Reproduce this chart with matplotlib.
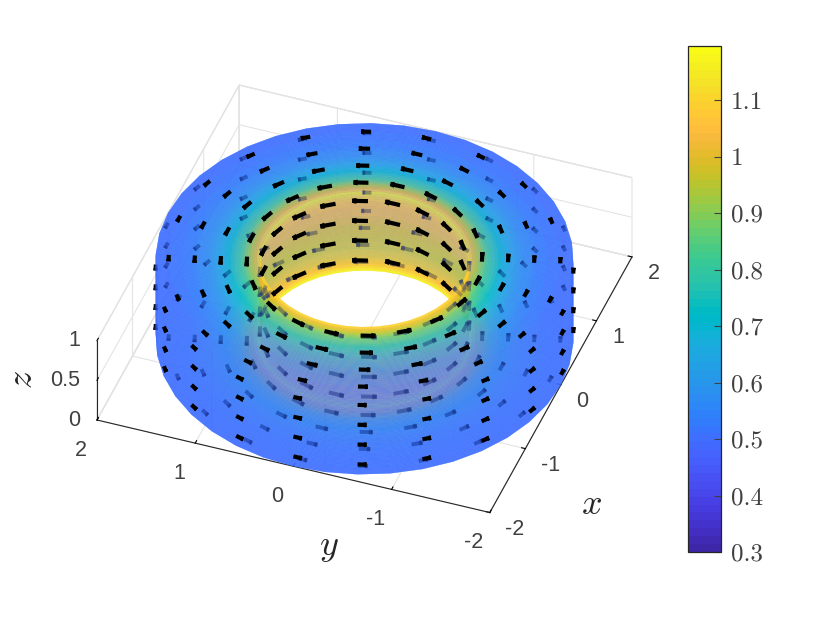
import numpy as np
import matplotlib
matplotlib.use('Agg')
import matplotlib.pyplot as plt
from matplotlib.cm import ScalarMappable
from matplotlib.colors import ListedColormap, Normalize
from mpl_toolkits.mplot3d import proj3d

# parula
parula = ListedColormap([
    (0.2422,0.1504,0.6603),(0.2504,0.1650,0.7076),(0.2578,0.1818,0.7511),(0.2647,0.1978,0.7952),
    (0.2706,0.2147,0.8364),(0.2751,0.2342,0.8710),(0.2783,0.2559,0.8991),(0.2803,0.2782,0.9221),
    (0.2813,0.3006,0.9414),(0.2810,0.3228,0.9579),(0.2795,0.3447,0.9717),(0.2760,0.3667,0.9829),
    (0.2699,0.3892,0.9906),(0.2602,0.4123,0.9952),(0.2440,0.4358,0.9988),(0.2206,0.4603,0.9973),
    (0.1963,0.4847,0.9892),(0.1834,0.5074,0.9798),(0.1786,0.5289,0.9682),(0.1764,0.5499,0.9520),
    (0.1687,0.5703,0.9359),(0.1540,0.5902,0.9218),(0.1460,0.6091,0.9079),(0.1380,0.6276,0.8973),
    (0.1248,0.6459,0.8883),(0.1113,0.6635,0.8763),(0.0952,0.6798,0.8598),(0.0689,0.6948,0.8394),
    (0.0297,0.7082,0.8163),(0.0036,0.7203,0.7917),(0.0067,0.7312,0.7660),(0.0433,0.7411,0.7394),
    (0.0964,0.7500,0.7120),(0.1408,0.7584,0.6842),(0.1717,0.7670,0.6554),(0.1938,0.7758,0.6251),
    (0.2161,0.7843,0.5923),(0.2470,0.7918,0.5567),(0.2906,0.7973,0.5188),(0.3406,0.8008,0.4789),
    (0.3909,0.8029,0.4354),(0.4456,0.8024,0.3909),(0.5044,0.7993,0.3480),(0.5616,0.7942,0.3045),
    (0.6174,0.7876,0.2612),(0.6720,0.7793,0.2227),(0.7242,0.7698,0.1910),(0.7738,0.7598,0.1646),
    (0.8203,0.7498,0.1535),(0.8634,0.7406,0.1596),(0.9035,0.7330,0.1774),(0.9393,0.7288,0.2100),
    (0.9728,0.7298,0.2394),(0.9956,0.7434,0.2371),(0.9970,0.7659,0.2199),(0.9952,0.7893,0.2028),
    (0.9892,0.8136,0.1885),(0.9786,0.8386,0.1766),(0.9676,0.8639,0.1643),(0.9610,0.8890,0.1537),
    (0.9597,0.9135,0.1423),(0.9628,0.9373,0.1265),(0.9691,0.9606,0.1064),(0.9769,0.9839,0.0805)])

# cross section, walked around the square: top, inner wall, bottom, outer wall
corner_s = [0, 1, 2, 3, 4]
corner_rho = [2, 1, 1, 2, 2]
corner_z = [1, 1, 0, 0, 1]

# colour values read along that walk
field_s = [0, 0.3, 0.5, 0.65, 0.8, 0.9, 0.95, 1.0, 1.12, 1.5, 1.88, 2.0, 2.05, 2.1, 2.2, 2.35, 2.5, 2.7, 3.0, 4.0]
field_val = [0.5, 0.53, 0.6, 0.7, 0.83, 0.95, 1.03, 1.15, 1.05, 1.0, 1.05, 1.19, 1.03, 0.95, 0.83, 0.7, 0.6, 0.53, 0.5, 0.5]

# arrow sites
arrow_theta = [18 * k for k in range(20)]
arrow_rho = [1.875, 1.625, 1.375, 1.125, 1, 1, 1, 1, 1.125, 1.375, 1.625, 1.875, 2, 2, 2, 2]
arrow_z = [1, 1, 1, 1, 0.875, 0.625, 0.375, 0.125, 0, 0, 0, 0, 0.125, 0.375, 0.625, 0.875]
# arrow length against rho
len_rho = [1, 1.5, 2]
len_val = [0.15, 0.115, 0.085]

vmin, vmax = 0.3, 1.196
cbar_ticks = [0.3, 0.4, 0.5, 0.6, 0.7, 0.8, 0.9, 1, 1.1]
cbar_labels = ['0.3', '0.4', '0.5', '0.6', '0.7', '0.8', '0.9', '1', '1.1']
axis_ticks = [-2, -1, 0, 1, 2]
z_ticks = [0, 0.5, 1]
z_labels = ['0', '0.5', '1']

AZ, EL = 199.9, 40.6
ALPHA = 0.72
TICK_COLOR = '#404040'

plt.rcParams['font.family'] = ['Liberation Sans', 'DejaVu Sans']
plt.rcParams['mathtext.fontset'] = 'cm'

fig = plt.figure(figsize=(8.3, 6.22), dpi=100)
ax = fig.add_axes([0.1, 0.1, 0.7, 0.7], projection='3d', computed_zorder=False)
ax.set_proj_type('ortho')
ax.view_init(elev=EL, azim=AZ)
ax.set_xlim(-2, 2)
ax.set_ylim(-2, 2)
ax.set_zlim(0, 1)
ax.set_box_aspect((4, 4, 1))

norm = Normalize(vmin, vmax)

# surface
s = np.linspace(0, 4, 129)
th = np.radians(np.linspace(0, 360, 41))
S, T = np.meshgrid(s, th)
R = np.interp(S, corner_s, corner_rho)
X = R * np.cos(T)
Y = R * np.sin(T)
Z = np.interp(S, corner_s, corner_z)
rgba = parula(norm(np.interp(S, field_s, field_val)))
rgba[..., 3] = ALPHA
# antialiased with a hairline edge, so neighbouring quads neither overlap nor leave seams
surf = ax.plot_surface(X, Y, Z, facecolors=rgba, rstride=1, cstride=1, shade=False,
                       linewidth=0.08, antialiased=True, zorder=2)

# arrows, split into what sits behind the surface and what is in front of it
az = np.radians(AZ)
el = np.radians(EL)
cam = np.array([np.cos(az), np.sin(az)])
front, back = [], []
for t in np.radians(arrow_theta):
    for rho, z in zip(arrow_rho, arrow_z):
        face_out = np.cos(t) * cam[0] + np.sin(t) * cam[1]
        if z == 1:
            vis = True
        elif z == 0:
            vis = False
        elif rho == 2:
            vis = face_out > 0
        else:
            vis = face_out < 0
            if vis:
                # still hidden when the line to the camera crosses the top face
                d = (1 - z) / np.tan(el)
                px = rho * np.cos(t) + d * cam[0]
                py = rho * np.sin(t) + d * cam[1]
                if 1 <= np.hypot(px, py) <= 2:
                    vis = False
        L = np.interp(rho, len_rho, len_val)
        row = [rho * np.cos(t), rho * np.sin(t), z, -L * np.sin(t), L * np.cos(t), 0]
        (front if vis else back).append(row)

back = np.array(back).T
front = np.array(front).T
ax.quiver(*back, arrow_length_ratio=0.3, linewidth=2.8, color='k', capstyle='butt', zorder=1)
# hidden arrows stay readable through several layers
ax.quiver(*back, arrow_length_ratio=0.3, linewidth=2.8, color='#14287a', alpha=0.3, capstyle='butt', zorder=2.5)
ax.quiver(*front, arrow_length_ratio=0.3, linewidth=3.0, color='k', capstyle='butt', zorder=3)

# axes look
ax.set_xticks(axis_ticks)
ax.set_yticks(axis_ticks)
ax.set_zticks(z_ticks)
ax.set_xticklabels([])
ax.set_yticklabels([])
ax.set_zticklabels([])
for axis in (ax.xaxis, ax.yaxis, ax.zaxis):
    axis.set_pane_color((1, 1, 1, 1))
    axis.pane.set_edgecolor('#dcdcdc')
    axis.pane.set_linewidth(0.9)
    axis.line.set_color('#262626')
    axis.line.set_linewidth(0.8)
    axis._axinfo['grid']['color'] = '#e4e4e4'
    axis._axinfo['grid']['linewidth'] = 0.8
    axis._axinfo['tick']['color'] = '#404040'
    axis._axinfo['tick']['linewidth'] = {True: 0.8, False: 0.8}
    axis._axinfo['tick']['inward_factor'] = 0.0
    axis._axinfo['tick']['outward_factor'] = 0.12

fig.text(591 / 830, 1 - 505 / 622, r'$x$', fontsize=26, ha='center', va='center', color='#262626')
fig.text(329 / 830, 1 - 547 / 622, r'$y$', fontsize=26, ha='center', va='center', color='#262626')
fig.text(23 / 830, 1 - 380 / 622, r'$z$', fontsize=26, ha='center', va='center', color='#262626', rotation=90)


# move the axes so the box corners land where they are in the picture
def corner_px(x, y, z):
    fig.canvas.draw()
    u, v, _ = proj3d.proj_transform(x, y, z, ax.get_proj())
    return ax.transData.transform((u, v))


target_a = (97, 622 - 420)
target_b = (632, 622 - 258)
side = 0.7 * 8.3
left, bottom = 0.1 * 8.3, 0.1 * 6.22
for i in range(3):
    ax.set_position([left / 8.3, bottom / 6.22, side / 8.3, side / 6.22])
    a = corner_px(-2, 2, 0)
    b = corner_px(2, -2, 0)
    k = (target_b[0] - target_a[0]) / (b[0] - a[0])
    side *= k
    ax.set_position([left / 8.3, bottom / 6.22, side / 8.3, side / 6.22])
    a = corner_px(-2, 2, 0)
    left += (target_a[0] - a[0]) / 100
    bottom += (target_a[1] - a[1]) / 100
ax.set_position([left / 8.3, bottom / 6.22, side / 8.3, side / 6.22])
fig.canvas.draw()


# tick labels hang off the projected tick positions
def tick_label(txt, p, dx, dy, ha):
    u, v, _ = proj3d.proj_transform(p[0], p[1], p[2], ax.get_proj())
    ax.annotate(txt, xy=(u, v), xytext=(dx, dy), textcoords='offset pixels', ha=ha, va='center',
                fontsize=15.5, color=TICK_COLOR, annotation_clip=False, zorder=5)


for v in axis_ticks:
    tick_label(str(v), (v, -2, 0), 15.5, -17, 'left')
    tick_label(str(v), (-2, v, 0), -16, -30, 'center')
for v, lab in zip(z_ticks, z_labels):
    tick_label(lab, (-2, 2, v), -17, 0, 'right')

# colorbar
cax = fig.add_axes([688 / 830, 1 - 552 / 622, 33 / 830, 506 / 622])
cb = fig.colorbar(ScalarMappable(norm=norm, cmap=parula), cax=cax)
cb.set_ticks(cbar_ticks)
cb.set_ticklabels(cbar_labels)
cb.ax.tick_params(direction='in', length=5, width=0.8, color='#404040', labelcolor='#404040', pad=7)
for lab in cb.ax.get_yticklabels():
    lab.set_fontfamily('cmr10')
    lab.set_fontsize(18)
cb.outline.set_edgecolor('#262626')
cb.outline.set_linewidth(0.9)

fig.savefig('out.png', dpi=100)
